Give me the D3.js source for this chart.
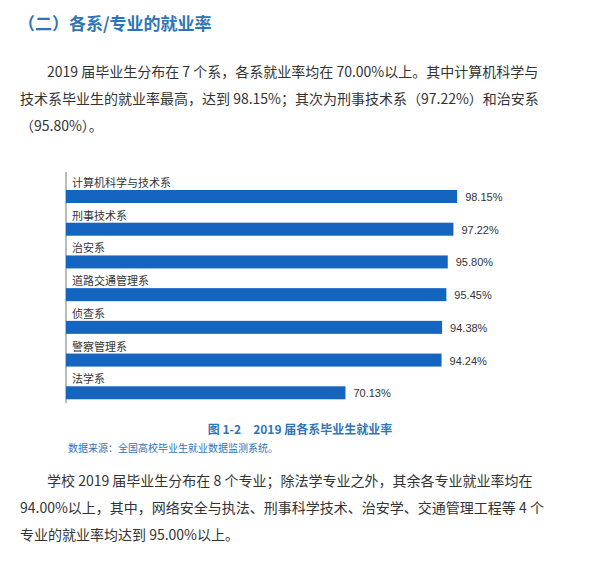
<!DOCTYPE html><html><head><meta charset="utf-8"><script src="https://cdn.jsdelivr.net/npm/d3@7"></script>
<style>body{margin:0;background:#fff}</style></head><body><svg id="c" width="600" height="565"></svg>
<script>
const categories=["计算机科学与技术系","刑事技术系","治安系","道路交通管理系","侦查系","警察管理系","法学系"];
const values=[98.15,97.22,95.80,95.45,94.38,94.24,70.13];
const labels=["98.15%","97.22%","95.80%","95.45%","94.38%","94.24%","70.13%"];
const svg=d3.select("#c");
const F="'Noto Sans CJK SC',sans-serif";
const blue="#2e75b6", txt="#333";
svg.append("text").attr("x",18).attr("y",30).attr("font-family",F).attr("font-size",17).attr("font-weight","bold").attr("fill",blue).text("（二）各系/专业的就业率");
const para1=[[47,"2019 届毕业生分布在 7 个系，各系就业率均在 70.00%以上。其中计算机科学与"],[20,"技术系毕业生的就业率最高，达到 98.15%；其次为刑事技术系（97.22%）和治安系"],[20,"（95.80%）。"]];
para1.forEach((l,i)=>svg.append("text").attr("x",l[0]).attr("y",77+i*27).attr("font-family",F).attr("font-size",14).attr("fill",txt).text(l[1]));
const x=d3.scaleLinear().domain([0,100]).range([66,464.5]);
const y=d3.scaleBand().domain(categories).range([177,406]).paddingInner(0).paddingOuter(0);
svg.append("line").attr("x1",66).attr("x2",66).attr("y1",172).attr("y2",403).attr("stroke","#777");
const g=svg.selectAll("g.b").data(categories).join("g");
g.append("rect").attr("x",x(0)).attr("y",(d)=>y(d)+13).attr("height",13).attr("width",(d,i)=>x(values[i])-x(0)).attr("fill","#1565c0");
g.append("text").attr("x",72).attr("y",d=>y(d)+10).attr("font-family",F).attr("font-size",11).attr("fill",txt).text(d=>d);
g.append("text").attr("x",(d,i)=>x(values[i])+8).attr("y",d=>y(d)+24).attr("font-family","'Liberation Sans',Arial,sans-serif").attr("font-size",11).attr("fill",txt).text((d,i)=>labels[i]);
svg.append("text").attr("x",300).attr("y",434).attr("text-anchor","middle").attr("font-family",F).attr("font-size",12).attr("font-weight","bold").attr("fill",blue).text("图 1-2　2019 届各系毕业生就业率");
svg.append("text").attr("x",68).attr("y",452).attr("font-family",F).attr("font-size",10).attr("fill",blue).text("数据来源：全国高校毕业生就业数据监测系统。");
const para2=[[47,"学校 2019 届毕业生分布在 8 个专业；除法学专业之外，其余各专业就业率均在"],[20,"94.00%以上，其中，网络安全与执法、刑事科学技术、治安学、交通管理工程等 4 个"],[20,"专业的就业率均达到 95.00%以上。"]];
para2.forEach((l,i)=>svg.append("text").attr("x",l[0]).attr("y",486+i*27).attr("font-family",F).attr("font-size",14).attr("fill",txt).text(l[1]));
</script></body></html>
